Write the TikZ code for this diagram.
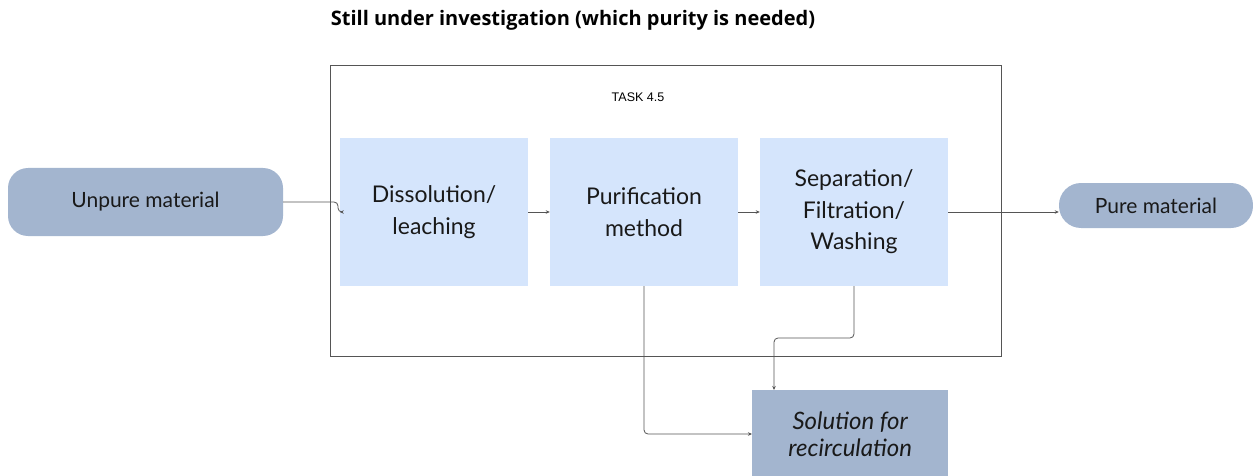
\documentclass[tikz,border=0pt]{standalone}
\usepackage{fontspec}
\setmainfont{Lato}
\newfontfamily\titlefont{Open Sans}
\newfontfamily\taskfont{Liberation Sans}
\usetikzlibrary{arrows.meta}
\definecolor{stepfill}{HTML}{D5E5FC}
\definecolor{endfill}{HTML}{A3B5CF}
\definecolor{linegray}{HTML}{555555}
\begin{document}
\begin{tikzpicture}[x=1pt,y=-1pt,
  stepbox/.style={fill=stepfill, draw=none, minimum width=188pt, minimum height=148pt,
    align=center, font=\fontsize{23}{31.5}\selectfont, text=black!90},
  endbox/.style={fill=endfill, draw=none, align=center, font=\fontsize{21}{25}\selectfont, text=black!90},
  conn/.style={draw=linegray, line width=0.8pt, rounded corners=4pt, -{Stealth[length=4pt,width=3.5pt]}}]
\useasboundingbox (0,0) rectangle (1253,476);
% title and task frame
\node[font=\titlefont\bfseries\fontsize{20}{24}\selectfont] (title) at (573,20) {Still under investigation (which purity is needed)};
\draw[linegray, line width=0.9pt] (330,65) rectangle (1001,356);
\node[font=\taskfont\fontsize{12.5}{15}\selectfont] (task) at (638,97) {TASK 4.5};
% process steps
\node[stepbox] (s1) at (434,212) {Dissolution/\\leaching};
\node[stepbox] (s2) at (644,212) {Purification\\method};
\node[stepbox] (s3) at (854,212) {Separation/\\Filtration/\\Washing};
% inputs and outputs
\node[endbox, minimum width=275pt, minimum height=68pt, rounded corners=20pt] (in) at (145.5,202) {Unpure material};
\node[endbox, minimum width=194pt, minimum height=45pt, rounded corners=22pt] (out) at (1156,205.5) {Pure material};
\node[endbox, minimum width=196pt, minimum height=88pt, font=\itshape\fontsize{24}{27}\selectfont, anchor=north west] (rec) at (752,390) {Solution for\\recirculation};
% connectors
\draw[conn] (in.east) -- (338,202) -- (338,212) -- (s1.west);
\draw[conn] (s1.east) -- (s2.west);
\draw[conn] (s2.east) -- (s3.west);
\draw[conn] (s3.east) -- (s3.east -| out.west);
\draw[conn] (s2.south) -- (644,434) -- (rec.west |- 0,434);
\draw[conn] (s3.south) -- (854,338) -- (774,338) -- (774,390);
\end{tikzpicture}
\end{document}
